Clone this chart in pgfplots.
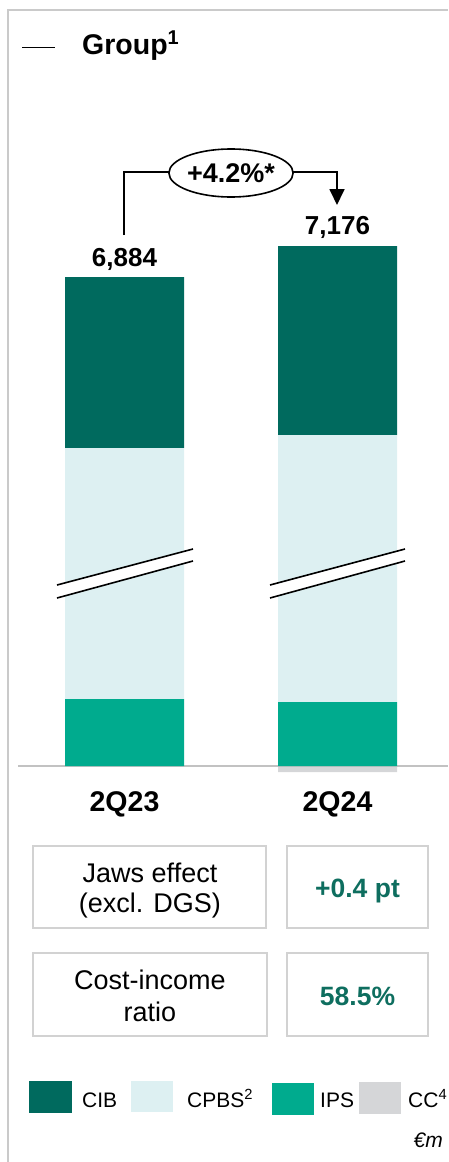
\documentclass[border=0pt]{standalone}
\usepackage{pgfplots}
\pgfplotsset{compat=1.18}
\usepackage{fontspec}
\setmainfont{Liberation Sans}
\usetikzlibrary{arrows.meta,shapes.geometric}
\definecolor{cib}{HTML}{006A5E}
\definecolor{cpbs}{HTML}{DDF0F2}
\definecolor{ips}{HTML}{00AB8E}
\definecolor{ccg}{HTML}{D5D6D8}
\definecolor{framegray}{HTML}{CACACA}
\definecolor{boxgray}{HTML}{D2D2D2}
\definecolor{basegray}{HTML}{C2C2C2}
\definecolor{greentext}{HTML}{0E6E5F}
% Values are the visible segment heights (the value axis is broken, so heights are in drawing units)
\pgfplotsset{common/.style={scale only axis, width=430pt, height=636pt,
  xmin=18, xmax=448, ymin=-20, ymax=616, at={(18pt,-786pt)}, anchor=south west,
  axis line style={draw=none}, tick style={draw=none}, ytick=\empty,
  clip=false, bar width=119pt}}
\begin{document}
\begin{tikzpicture}
\useasboundingbox (0,0) rectangle (448pt,-1162pt);
% frame
\draw[framegray, line width=1.5pt] (8pt,-1162pt) -- (8pt,-10pt) -- (448pt,-10pt);
% title
\draw[black, line width=0.8pt] (22pt,-47pt) -- (55pt,-47pt);
\node[anchor=base west, inner sep=0pt, font=\fontsize{28.5}{32}\selectfont\bfseries] at (82pt,-54pt) {Group\textsuperscript{1}};
% CC (negative part) axis
\begin{axis}[common, xtick=\empty]
\addplot[ybar, bar shift=0pt, fill=ccg, draw=none] coordinates {(124.5,0) (337.5,-6)};
\end{axis}
% stacked bars
\begin{axis}[common, ybar stacked, xtick={124.5,337.5}, xticklabels={2Q23,2Q24},
  xticklabel style={anchor=base, yshift=-25pt, inner sep=0pt, font=\fontsize{28.5}{32}\selectfont\bfseries}]
\addplot[fill=ips, draw=none] coordinates {(124.5,67) (337.5,64)};
\addplot[fill=cpbs, draw=none] coordinates {(124.5,251) (337.5,267)};
\addplot[fill=cib, draw=none] coordinates {(124.5,171) (337.5,189)};
\draw[basegray, line width=2pt] (axis cs:18,0) -- (axis cs:448,0);
\node[anchor=base, inner sep=0pt, yshift=11pt, font=\fontsize{26}{30}\selectfont\bfseries] at (axis cs:124.5,489) {6,884};
\node[anchor=base, inner sep=0pt, yshift=12pt, font=\fontsize{26}{30}\selectfont\bfseries] at (axis cs:337.5,520) {7,176};
\end{axis}
% break marks
\foreach \xa/\xb in {57/193, 270/405}{
  \fill[white] (\xa pt,-585pt) -- (\xb pt,-549pt) -- (\xb pt,-561pt) -- (\xa pt,-598pt) -- cycle;
  \draw[black, line width=1.6pt] (\xa pt,-585pt) -- (\xb pt,-549pt);
  \draw[black, line width=1.6pt] (\xa pt,-598pt) -- (\xb pt,-561pt);
}
% growth annotation
\draw[black, line width=1.8pt] (124pt,-235pt) |- (176pt,-172pt);
\draw[black, line width=1.8pt, -{Triangle[width=15pt,length=16pt]}] (286pt,-172pt) -| (337pt,-205pt);
\node[ellipse, draw=black, line width=1.6pt, fill=white, minimum width=114pt, minimum height=48pt, inner sep=0pt,
  font=\fontsize{27}{30}\selectfont\bfseries] at (231pt,-173pt) {+4.2\%*};
% KPI boxes
\draw[boxgray, line width=1.3pt] (33pt,-846pt) rectangle (266pt,-928pt);
\draw[boxgray, line width=1.3pt] (287pt,-846pt) rectangle (428pt,-928pt);
\draw[boxgray, line width=1.3pt] (33pt,-953pt) rectangle (267pt,-1036pt);
\draw[boxgray, line width=1.3pt] (287pt,-953pt) rectangle (428pt,-1036pt);
\begin{scope}[every node/.style={inner sep=0pt, anchor=base, font=\fontsize{27}{30}\selectfont}]
\node at (150pt,-882pt) {Jaws effect};
\node at (150pt,-912pt) {(excl. DGS)};
\node at (150pt,-989pt) {Cost-income};
\node at (150pt,-1021pt) {ratio};
\node[text=greentext, font=\fontsize{26.5}{30}\selectfont\bfseries] at (357.5pt,-897pt) {+0.4 pt};
\node[text=greentext, font=\fontsize{26.5}{30}\selectfont\bfseries] at (357.5pt,-1005pt) {58.5\%};
\end{scope}
% legend
\fill[cib] (29pt,-1081pt) rectangle (72pt,-1113pt);
\fill[cpbs] (131pt,-1081pt) rectangle (173pt,-1112pt);
\fill[ips] (272pt,-1083pt) rectangle (314pt,-1115pt);
\fill[ccg] (359pt,-1082pt) rectangle (401pt,-1114pt);
\begin{scope}[every node/.style={inner sep=0pt, anchor=base west, font=\fontsize{21}{24}\selectfont}]
\node at (82pt,-1107pt) {CIB};
\node at (187pt,-1107pt) {CPBS\textsuperscript{2}};
\node at (320pt,-1107pt) {IPS};
\node at (408pt,-1107pt) {CC\textsuperscript{4}};
\node[anchor=base east, font=\fontsize{21}{24}\selectfont\itshape] at (443pt,-1147pt) {€m};
\end{scope}
\end{tikzpicture}
\end{document}
